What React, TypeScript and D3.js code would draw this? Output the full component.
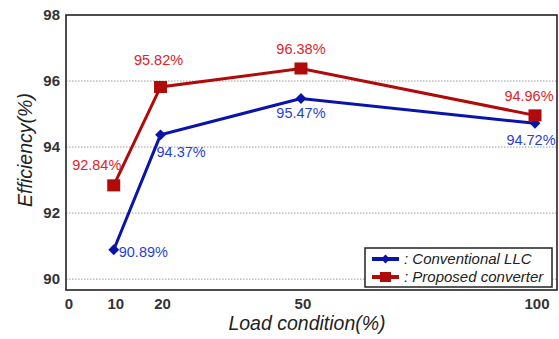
import React from "react";
import * as d3 from "d3";

const loads = [10, 20, 50, 100];
const conventional = [90.89, 94.37, 95.47, 94.72];
const proposed = [92.84, 95.82, 96.38, 94.96];
const xTicks = [0, 10, 20, 50, 100];
const yTicks = [90, 92, 94, 96, 98];
const seriesNames = ["Conventional LLC", "Proposed converter"];

const W = 559, H = 339;
const left = 66, right = 557, top = 15, bottom = 290;

export default function App() {
  const x = d3.scaleLinear().domain([-0.2, 104.7]).range([left, right]);
  const y = d3.scaleLinear().domain([89.67, 98]).range([bottom, top]);
  const line = d3.line<[number, number]>().x(d => x(d[0])).y(d => y(d[1]));
  const convPts: [number, number][] = loads.map((l, i) => [l, conventional[i]]);
  const propPts: [number, number][] = loads.map((l, i) => [l, proposed[i]]);
  const blue = "#0a14a8", red = "#b00a0a";
  const blueTxt = "#1f3fe0", redTxt = "#e0222a";
  // label offsets (dx, dy, anchor)
  const propLbl: [number, number, string][] = [[-17, -15, "middle"], [-2, -22, "middle"], [0, -14, "middle"], [-6, -14, "middle"]];
  const convLbl: [number, number, string][] = [[5, 7, "start"], [-4, 22, "start"], [0, 19, "middle"], [-4, 22, "middle"]];
  const font = "Arial, 'Liberation Sans', sans-serif";
  return (
    <svg width={W} height={H} style={{ position: "absolute", left: 0, top: 0, background: "#fff" }} fontFamily={font}>
      {yTicks.filter(t => t < 98).map(t => (
        <line key={t} x1={left} x2={right} y1={y(t)} y2={y(t)} stroke="#999" strokeWidth={1} strokeDasharray="1.5,1.5" />
      ))}
      <rect x={left} y={top} width={right - left} height={bottom - top} fill="none" stroke="#222" strokeWidth={1.6} />
      {yTicks.map(t => (
        <text key={t} x={60} y={y(t) + 5} textAnchor="end" fontSize={15} fontWeight="bold" fill="#333">{t}</text>
      ))}
      {xTicks.map(t => (
        <text key={t} x={x(t) + 2} y={309} textAnchor="middle" fontSize={15} fontWeight="bold" fill="#333">{t}</text>
      ))}
      <text x={307} y={330} textAnchor="middle" fontSize={19.5} fontStyle="italic" fill="#222">Load condition(%)</text>
      <text transform={`translate(32,150) rotate(-90)`} textAnchor="middle" fontSize={19.5} fontStyle="italic" fill="#222">Efficiency(%)</text>

      <path d={line(convPts) || ""} fill="none" stroke={blue} strokeWidth={3} />
      <path d={line(propPts) || ""} fill="none" stroke={red} strokeWidth={3} />
      {convPts.map((p, i) => (
        <path key={i} d={d3.symbol(d3.symbolDiamond2, 75)() || ""} transform={`translate(${x(p[0])},${y(p[1])})`} fill={blue} />
      ))}
      {propPts.map((p, i) => (
        <rect key={i} x={x(p[0]) - 6.5} y={y(p[1]) - 6} width={13} height={12} fill={red} />
      ))}
      {propPts.map((p, i) => (
        <text key={i} x={x(p[0]) + propLbl[i][0]} y={y(p[1]) + propLbl[i][1]} textAnchor={propLbl[i][2] as any} fontSize={14.5} fill={redTxt}>{proposed[i].toFixed(2)}%</text>
      ))}
      {convPts.map((p, i) => (
        <text key={i} x={x(p[0]) + convLbl[i][0]} y={y(p[1]) + convLbl[i][1]} textAnchor={convLbl[i][2] as any} fontSize={14.5} fill={blueTxt}>{conventional[i].toFixed(2)}%</text>
      ))}

      <rect x={365} y={248} width={187} height={39} fill="#fff" stroke="#222" strokeWidth={1.5} />
      {seriesNames.map((n, i) => {
        const cy = 259 + i * 18;
        const c = i === 0 ? blue : red;
        return (
          <g key={n}>
            <line x1={372} x2={399} y1={cy} y2={cy} stroke={c} strokeWidth={4} />
            {i === 0
              ? <path d={d3.symbol(d3.symbolDiamond2, 50)() || ""} transform={`translate(385.5,${cy})`} fill={c} />
              : <rect x={380} y={cy - 5} width={11} height={10} fill={c} />}
            <text x={404} y={cy + 5} fontSize={15} fontStyle="italic" fill="#222">: {n}</text>
          </g>
        );
      })}
    </svg>
  );
}
